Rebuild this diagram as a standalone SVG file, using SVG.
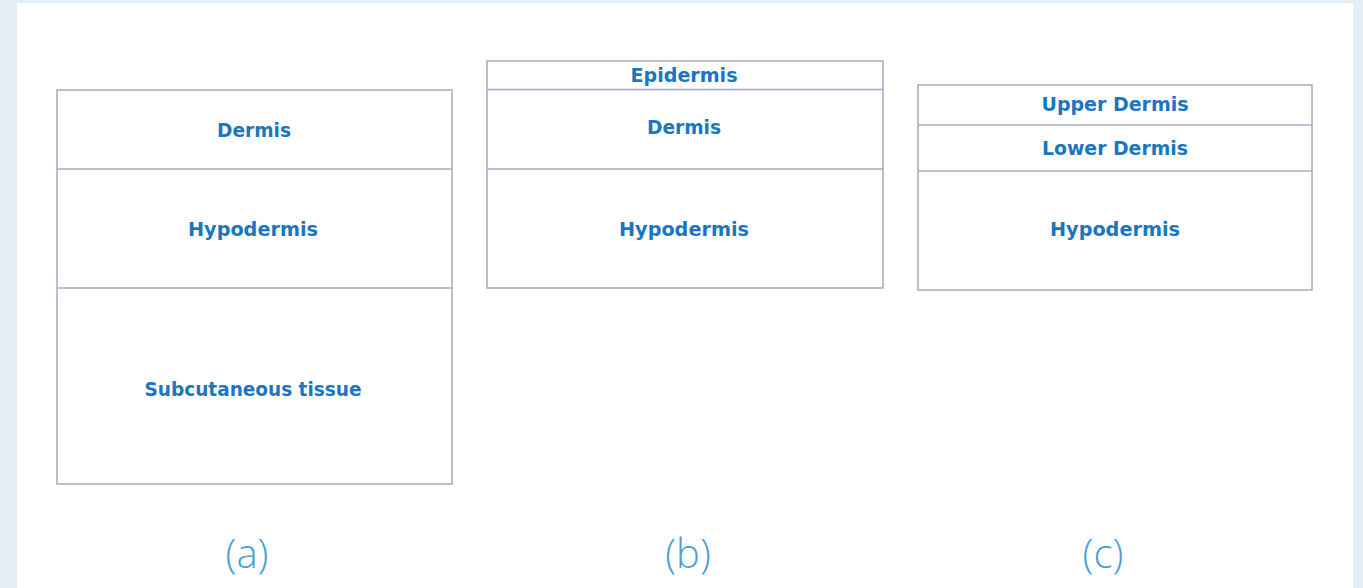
<svg xmlns="http://www.w3.org/2000/svg" width="1363" height="588" viewBox="0 0 1363 588">
<style>
.box{fill:#ffffff;stroke:#a4abc4;stroke-width:1.5}
.div{stroke:#a4abc4;stroke-width:1.5}
.t{font-family:"DejaVu Sans",sans-serif;font-weight:bold;font-size:19.5px;fill:#1a76c0;text-anchor:middle}
.cap{font-family:"Open Sans",Lato,sans-serif;font-weight:300;font-size:40px;fill:#4a9fd8;text-anchor:middle}
</style>
<rect x="0" y="0" width="1363" height="588" fill="#e3eef6"/>
<rect x="17" y="3" width="1336" height="585" fill="#ffffff"/>
<g id="diagram-a">
<rect class="box" x="57" y="90" width="395" height="394"/>
<line class="div" x1="57" y1="169" x2="452" y2="169"/>
<line class="div" x1="57" y1="288" x2="452" y2="288"/>
<text class="t" x="254" y="137" textLength="74" lengthAdjust="spacingAndGlyphs">Dermis</text>
<text class="t" x="253" y="236" textLength="130" lengthAdjust="spacingAndGlyphs">Hypodermis</text>
<text class="t" x="253" y="396" textLength="217" lengthAdjust="spacingAndGlyphs">Subcutaneous tissue</text>
</g>
<g id="diagram-b">
<rect class="box" x="487" y="61" width="396" height="227"/>
<line class="div" x1="487" y1="89.5" x2="883" y2="89.5"/>
<line class="div" x1="487" y1="169" x2="883" y2="169"/>
<text class="t" x="684" y="82" textLength="107" lengthAdjust="spacingAndGlyphs">Epidermis</text>
<text class="t" x="684" y="134" textLength="74" lengthAdjust="spacingAndGlyphs">Dermis</text>
<text class="t" x="684" y="236" textLength="130" lengthAdjust="spacingAndGlyphs">Hypodermis</text>
</g>
<g id="diagram-c">
<rect class="box" x="918" y="85" width="394" height="205"/>
<line class="div" x1="918" y1="125" x2="1312" y2="125"/>
<line class="div" x1="918" y1="171" x2="1312" y2="171"/>
<text class="t" x="1115" y="111" textLength="147" lengthAdjust="spacingAndGlyphs">Upper Dermis</text>
<text class="t" x="1115" y="155" textLength="146" lengthAdjust="spacingAndGlyphs">Lower Dermis</text>
<text class="t" x="1115" y="236" textLength="130" lengthAdjust="spacingAndGlyphs">Hypodermis</text>
</g>
<g id="connectors"/>
<text class="cap" x="247" y="568">(a)</text>
<text class="cap" x="688" y="568">(b)</text>
<text class="cap" x="1103" y="568">(c)</text>
</svg>
